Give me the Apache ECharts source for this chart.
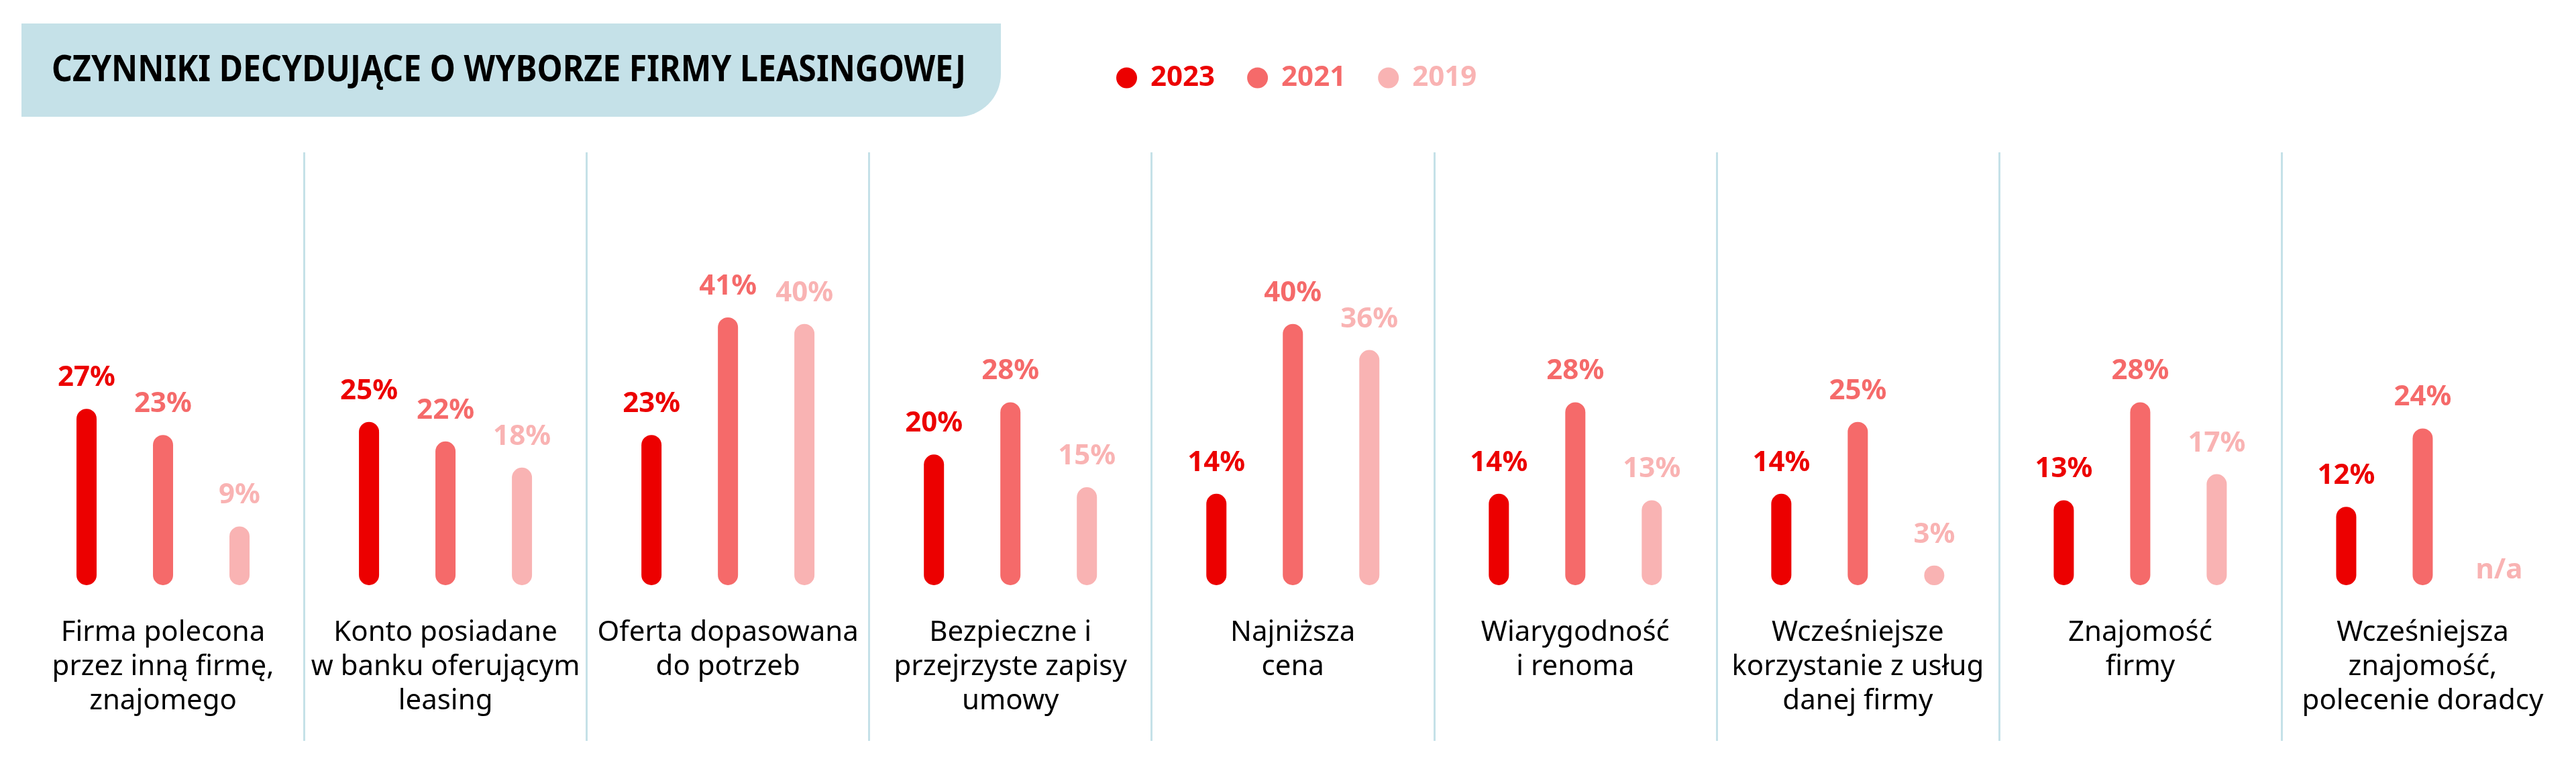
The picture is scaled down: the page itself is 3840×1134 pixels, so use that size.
<!DOCTYPE html>
<html lang="pl">
<head>
<meta charset="utf-8">
<title>Czynniki decydujące o wyborze firmy leasingowej</title>
<script src="https://cdn.jsdelivr.net/npm/echarts@6.0.0/dist/echarts.min.js"></script>
<style>
  html, body { margin: 0; padding: 0; background: #fff; }
  #chart { width: 3840px; height: 1134px; }
</style>
</head>
<body>
<div id="chart"></div>
<script>
const titleText = 'CZYNNIKI DECYDUJĄCE O WYBORZE FIRMY LEASINGOWEJ'
const categories = [
  'Firma polecona\nprzez inną firmę,\nznajomego',
  'Konto posiadane\nw banku oferującym\nleasing',
  'Oferta dopasowana\ndo potrzeb',
  'Bezpieczne i\nprzejrzyste zapisy\numowy',
  'Najniższa\ncena',
  'Wiarygodność\ni renoma',
  'Wcześniejsze\nkorzystanie z usług\ndanej firmy',
  'Znajomość\nfirmy',
  'Wcześniejsza\nznajomość,\npolecenie doradcy'
]
const years = ['2023', '2021', '2019']
const values2023 = [27, 25, 23, 20, 14, 14, 14, 13, 12]
const values2021 = [23, 22, 41, 28, 40, 28, 25, 28, 24]
const values2019 = [9, 18, 40, 15, 36, 13, 3, 17, null] // null = n/a
const colors = ['#ec0000', '#f56a6a', '#f9b3b3']

const FONT = '"Noto Sans", sans-serif'

// squeeze the title a bit, the original font is narrower
function titleScale() {
  const ctx = document.createElement('canvas').getContext('2d')
  ctx.font = 'bold 53px "Noto Sans"'
  return 1363 / ctx.measureText(titleText).width
}

function barSeries(name, values, color) {
  return {
    name: name,
    type: 'bar',
    barWidth: 30,
    barGap: '280%',
    itemStyle: { color: color, borderRadius: 15 },
    label: {
      show: true,
      position: 'top',
      distance: 25,
      color: color,
      fontFamily: FONT,
      fontSize: 42,
      fontWeight: 'bold',
      formatter: '{c}%'
    },
    data: values.map(v => {
      if (v === null) {
        // no bar, just the n/a text on the baseline
        return {
          value: 0,
          itemStyle: { color: 'rgba(0,0,0,0)' },
          label: { show: true, formatter: 'n/a', distance: 1, color: color }
        }
      }
      return v
    })
  }
}

const chart = echarts.init(document.getElementById('chart'))
chart.setOption({
  animation: false,
  color: colors,
  legend: {
    data: years.map((y, i) => ({ name: y, textStyle: { color: colors[i] } })),
    left: 1659,
    top: 90,
    itemWidth: 31,
    itemHeight: 31,
    itemGap: 48,
    icon: 'circle',
    textStyle: {
      fontFamily: FONT,
      fontSize: 42,
      fontWeight: 'bold',
      padding: [0, 0, 0, 15]
    }
  },
  graphic: [
    {
      type: 'rect',
      shape: { x: 32, y: 35, width: 1460, height: 139, r: [0, 0, 64, 0] },
      style: { fill: '#c5e1e8' }
    },
    {
      type: 'text',
      x: 77,
      y: 106,
      scaleX: titleScale(),
      style: {
        text: titleText,
        font: 'bold 53px "Noto Sans"',
        fill: '#000',
        verticalAlign: 'middle'
      }
    }
  ],
  grid: [
    { left: 32.5, right: 18, top: 288, bottom: 262 },
    // only there for the thin separators between the groups
    { left: 32.5, right: 18, top: 227, bottom: 30 }
  ],
  xAxis: [
    {
      type: 'category',
      data: categories,
      axisLine: { show: false },
      axisTick: { show: false },
      axisLabel: {
        interval: 0,
        margin: 46,
        color: '#000',
        fontFamily: FONT,
        fontSize: 42,
        lineHeight: 51
      }
    },
    {
      type: 'category',
      gridIndex: 1,
      data: categories,
      axisLine: { show: false },
      axisTick: { show: false },
      axisLabel: { show: false },
      splitLine: {
        show: true,
        showMinLine: false,
        showMaxLine: false,
        lineStyle: { color: '#c5e1e8', width: 3 }
      }
    }
  ],
  yAxis: [
    { type: 'value', min: 0, max: 60, show: false },
    { type: 'value', gridIndex: 1, min: 0, max: 1, show: false }
  ],
  series: [
    barSeries(years[0], values2023, colors[0]),
    barSeries(years[1], values2021, colors[1]),
    barSeries(years[2], values2019, colors[2])
  ]
})
</script>
</body>
</html>
